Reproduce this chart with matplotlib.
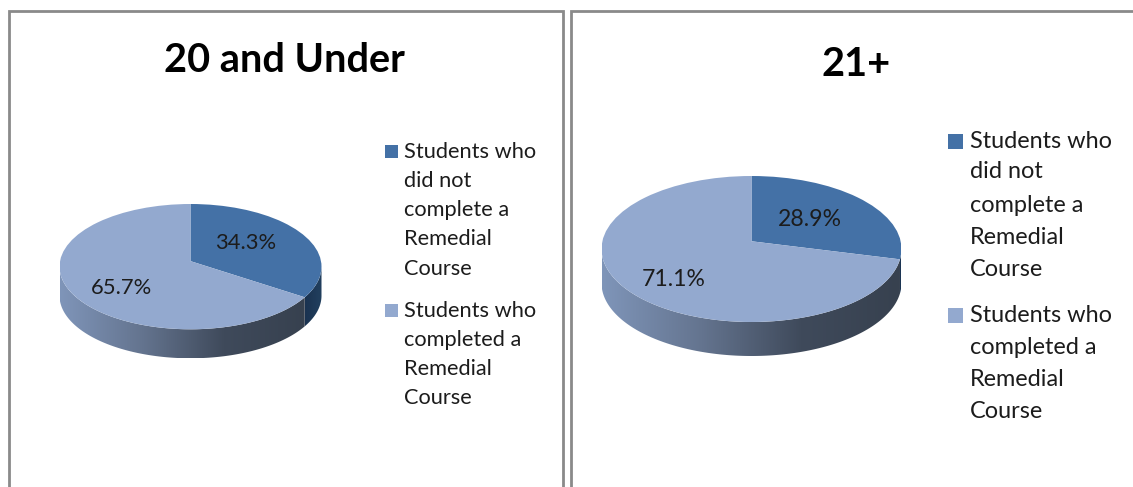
import numpy as np
import matplotlib
matplotlib.use("Agg")
import matplotlib.pyplot as plt
from matplotlib.patches import Circle, Polygon, Rectangle
from matplotlib.colors import LinearSegmentedColormap

plt.rcParams['font.family'] = ['Lato', 'DejaVu Sans']

W, H = 1133, 487

titles = ["20 and Under", "21+"]
values_under20 = [34.3, 65.7]
values_over21 = [28.9, 71.1]
legend_not_completed = ["Students who", "did not", "complete a", "Remedial", "Course"]
legend_completed = ["Students who", "completed a", "Remedial", "Course"]

DARK = "#4471A6"
LIGHT = "#93A9CF"
TEXT = "#1c1c1c"
FRAME = "#8a8a8a"

fig = plt.figure(figsize=(W / 100, H / 100), dpi=100, facecolor="white")
bg = fig.add_axes([0, 0, 1, 1], zorder=0)
bg.set_xlim(0, W)
bg.set_ylim(H, 0)
bg.axis("off")
fg = fig.add_axes([0, 0, 1, 1], zorder=5)
fg.patch.set_alpha(0)
fg.set_xlim(0, W)
fg.set_ylim(H, 0)
fg.axis("off")


def frame(x0, x1, top, right=True):
    xs = [x0, x0, x1] + ([x1] if right else [])
    ys = [H, top, top] + ([H] if right else [])
    bg.plot(xs, ys, color=FRAME, lw=2.0, solid_joinstyle="miter", clip_on=True)


frame(8.5, 562.5, 11)
frame(570.5, 1140, 10.5, right=False)

side_cmap = LinearSegmentedColormap.from_list("side", ["#7F95B9", "#64748F", "#3F4A5B", "#37414F"])
dark_cmap = LinearSegmentedColormap.from_list("sideD", ["#1A3250", "#22405F"])


def pie3d(values, cx, top, bottom, rx, depth, apex_shift):
    ry = (bottom - top) / 2
    d = depth / ry
    ax = fig.add_axes([(cx - rx) / W, 1 - (bottom + depth) / H, 2 * rx / W, (bottom - top + depth) / H], zorder=2)
    ax.patch.set_alpha(0)

    # where the slice boundary meets the rim
    a = np.radians(90 - 360 * values[0] / sum(values))
    b = 2 * apex_shift * np.sin(a)
    c = apex_shift ** 2 - 1
    t = (-b + np.sqrt(b * b - 4 * c)) / 2
    x_end = t * np.cos(a)
    th_end = 2 * np.pi - np.arccos(x_end)

    wedges, _ = ax.pie(values, colors=[DARK, LIGHT], startangle=90, counterclock=False,
                       center=(0, apex_shift), radius=1.4, wedgeprops=dict(linewidth=0, zorder=2))
    ax.set_aspect("auto")
    ax.set_xlim(-1, 1)
    ax.set_ylim(-1 - d, 1)

    for th0, th1, cmap, ext in [(np.pi, th_end, side_cmap, (-1, x_end)),
                                (th_end, 2 * np.pi, dark_cmap, (x_end, 1))]:
        th = np.linspace(th0, th1, 200)
        xs, ys = np.cos(th), np.sin(th)
        poly = np.r_[np.c_[xs, ys], np.c_[xs[::-1], ys[::-1] - d]]
        im = ax.imshow(np.linspace(0, 1, 256)[None, :], cmap=cmap, aspect="auto",
                       extent=(ext[0], ext[1], -1 - d, 1), zorder=1)
        im.set_clip_path(Polygon(poly, closed=True, transform=ax.transData))

    ax.set_aspect("auto")
    ax.set_xlim(-1, 1)
    ax.set_ylim(-1 - d, 1)
    disc = Circle((0, 0), 1, transform=ax.transData)
    for w in wedges:
        w.set_clip_on(True)
        w.set_clip_path(disc)
    ax.axis("off")


pie3d(values_under20, 190.5, 204, 329.3, 131, 29, 0.088)
pie3d(values_over21, 751.5, 176, 322, 150, 34, 0.106)

# titles
title_fs = 28.6
fg.text(284, 60, titles[0], fontsize=title_fs, fontweight="bold", color="black", ha="center", va="center")
fg.text(856, 64, titles[1], fontsize=title_fs, fontweight="bold", color="black", ha="center", va="center")

# percentage labels
for v, (x, y) in zip(values_under20, [(246, 243), (121, 288)]):
    fg.text(x, y, f"{v:.1f}%", fontsize=15.8, color=TEXT, ha="center", va="center")
for v, (x, y) in zip(values_over21, [(810, 219), (674, 279)]):
    fg.text(x, y, f"{v:.1f}%", fontsize=16.6, color=TEXT, ha="center", va="center")


def legend(xs, xt, sq, ys1, ys2, fs):
    for lines, ys, col in [(legend_not_completed, ys1, DARK), (legend_completed, ys2, LIGHT)]:
        fg.add_patch(Rectangle((xs, ys[0] - sq / 2), sq, sq, facecolor=col, edgecolor="none"))
        for line, y in zip(lines, ys):
            fg.text(xt, y + 1, line, fontsize=fs, color=TEXT, ha="left", va="center")


legend(385, 404, 13, [151, 180, 209, 238, 268], [310, 339, 368, 397], 15.7)
legend(948, 970, 15, [141, 171, 204, 236, 268], [315, 347, 379, 410], 16.9)

fig.savefig("out.png", dpi=100, facecolor="white")
